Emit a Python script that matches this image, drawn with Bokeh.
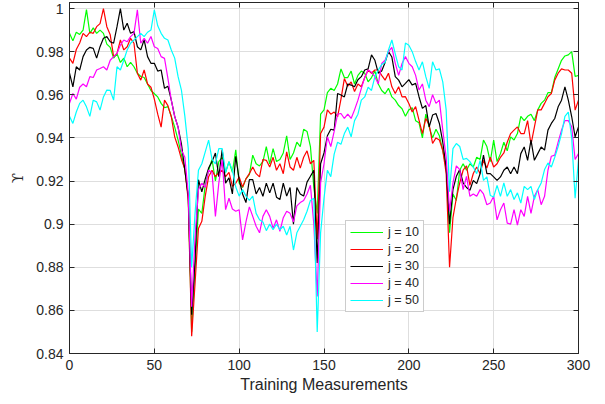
from bokeh.plotting import figure
from bokeh.models import (Range1d, FixedTicker, LinearAxis, Legend, LegendItem,
                          CustomJSTickFormatter)
from bokeh.embed import file_html
from bokeh.resources import INLINE

# ---------------- data ----------------
x_ticks = [0, 50, 100, 150, 200, 250, 300]
y_ticks = [0.84, 0.86, 0.88, 0.90, 0.92, 0.94, 0.96, 0.98, 1.0]
x_label = "Training Measurements"
y_label = "ϒ"
sample_step = 2  # training measurements between stored samples

j10 = [0.9885, 0.985, 0.989, 0.988, 0.990, 0.9995, 0.9885, 0.991, 0.9885, 0.990,
       0.9885, 0.9835, 0.982, 0.977, 0.979, 0.975, 0.977, 0.973, 0.975, 0.973,
       0.970, 0.9685, 0.968, 0.965, 0.962, 0.9605, 0.959, 0.956, 0.954, 0.9545,
       0.950, 0.945, 0.939, 0.932, 0.925, 0.913, 0.850, 0.880, 0.907, 0.905,
       0.918, 0.925, 0.930, 0.920, 0.929, 0.931, 0.924, 0.929, 0.924, 0.9345,
       0.919, 0.917, 0.921, 0.923, 0.932, 0.928, 0.927, 0.929, 0.936, 0.928,
       0.935, 0.929, 0.930, 0.933, 0.941, 0.930, 0.933, 0.938, 0.936, 0.944,
       0.943, 0.936, 0.917, 0.905, 0.951, 0.953, 0.961, 0.963, 0.962, 0.965,
       0.972, 0.968, 0.968, 0.971, 0.965, 0.969, 0.971, 0.970, 0.966, 0.968,
       0.971, 0.965, 0.962, 0.9605, 0.963, 0.959, 0.9575, 0.955, 0.9535, 0.950,
       0.953, 0.954, 0.948, 0.947, 0.940, 0.951, 0.945, 0.940, 0.944, 0.941,
       0.934, 0.9265, 0.896, 0.914, 0.911, 0.925, 0.928, 0.925, 0.928, 0.9265,
       0.931, 0.930, 0.939, 0.936, 0.929, 0.939, 0.929, 0.9327, 0.938, 0.934,
       0.9405, 0.939, 0.942, 0.950, 0.948, 0.950, 0.951, 0.948, 0.953, 0.956,
       0.9575, 0.961, 0.961, 0.968, 0.972, 0.976, 0.978, 0.9785, 0.980, 0.9685,
       0.969]

j20 = [0.977, 0.9746, 0.981, 0.984, 0.9885, 0.987, 0.989, 0.9885, 0.9916, 0.993,
       1.0, 0.9916, 0.9878, 0.9777, 0.9792, 0.9854, 0.9808, 0.9823, 0.9862, 0.9839,
       0.970, 0.9668, 0.9715, 0.965, 0.9635, 0.958, 0.951, 0.945, 0.9575, 0.955,
       0.9498, 0.9405, 0.9358, 0.930, 0.9255, 0.911, 0.848, 0.8726, 0.898, 0.9013,
       0.913, 0.922, 0.925, 0.922, 0.924, 0.925, 0.922, 0.924, 0.9175, 0.919,
       0.9219, 0.9172, 0.921, 0.9234, 0.9265, 0.9234, 0.9219, 0.930, 0.9296, 0.9265,
       0.931, 0.925, 0.928, 0.9234, 0.9335, 0.9265, 0.925, 0.931, 0.926, 0.931,
       0.934, 0.928, 0.9296, 0.893, 0.942, 0.945, 0.953, 0.951, 0.952, 0.9498,
       0.958, 0.9675, 0.964, 0.966, 0.9615, 0.965, 0.9637, 0.968, 0.9715, 0.970,
       0.9715, 0.9715, 0.969, 0.9668, 0.970, 0.9637, 0.9606, 0.9637, 0.959, 0.9591,
       0.956, 0.952, 0.9545, 0.9482, 0.942, 0.949, 0.946, 0.9374, 0.940, 0.939,
       0.9343, 0.9235, 0.880, 0.903, 0.912, 0.9191, 0.925, 0.927, 0.918, 0.9235,
       0.9265, 0.9234, 0.9296, 0.926, 0.931, 0.9265, 0.928, 0.931, 0.933, 0.938,
       0.942, 0.9436, 0.9451, 0.942, 0.942, 0.948, 0.937, 0.945, 0.953, 0.953,
       0.956, 0.9591, 0.9606, 0.9668, 0.970, 0.972, 0.9715, 0.9715, 0.970, 0.9529,
       0.9575]

j30 = [0.970, 0.9637, 0.973, 0.9715, 0.9777, 0.9808, 0.982, 0.9815, 0.977, 0.9823,
       0.9862, 0.987, 0.9846, 0.9839, 0.9916, 1.0, 0.990, 0.9932, 0.9885, 0.9893,
       0.9823, 0.9808, 0.9855, 0.9777, 0.9746, 0.9746, 0.971, 0.9715, 0.963, 0.964,
       0.9575, 0.950, 0.945, 0.937, 0.925, 0.913, 0.858, 0.8834, 0.9206, 0.915,
       0.921, 0.926, 0.929, 0.933, 0.922, 0.9346, 0.919, 0.9215, 0.914, 0.9315,
       0.9206, 0.914, 0.910, 0.9206, 0.9206, 0.914, 0.917, 0.9129, 0.919, 0.9145,
       0.919, 0.9125, 0.9114, 0.919, 0.913, 0.917, 0.900, 0.917, 0.914, 0.913,
       0.9195, 0.9222, 0.925, 0.882, 0.928, 0.933, 0.941, 0.944, 0.9436, 0.9606,
       0.9599, 0.959, 0.965, 0.9645, 0.9637, 0.967, 0.9684, 0.9715, 0.972, 0.9785,
       0.976, 0.970, 0.971, 0.975, 0.980, 0.9775, 0.9684, 0.9668, 0.9637, 0.9653,
       0.967, 0.9645, 0.9653, 0.9591, 0.9537, 0.955, 0.9451, 0.9506, 0.9513, 0.9467,
       0.938, 0.9265, 0.900, 0.916, 0.9222, 0.9253, 0.9191, 0.917, 0.9157, 0.9203,
       0.9188, 0.9234, 0.932, 0.9234, 0.9234, 0.9219, 0.9203, 0.9219, 0.925, 0.9265,
       0.9234, 0.9265, 0.9234, 0.9327, 0.9358, 0.9296, 0.939, 0.9296, 0.9327, 0.9358,
       0.9343, 0.9436, 0.9467, 0.949, 0.9544, 0.9575, 0.9637, 0.9575, 0.9498, 0.9405,
       0.9451]

j40 = [0.956, 0.9606, 0.958, 0.9635, 0.965, 0.9637, 0.9684, 0.968, 0.9715, 0.9722,
       0.973, 0.9715, 0.976, 0.9777, 0.9792, 0.9831, 0.9854, 0.9846, 0.987, 0.9885,
       0.9994, 0.9839, 0.9862, 0.9839, 0.987, 0.9823, 0.9815, 0.9777, 0.9769, 0.9676,
       0.9575, 0.950, 0.945, 0.9343, 0.931, 0.914, 0.8617, 0.894, 0.916, 0.919,
       0.917, 0.925, 0.924, 0.9036, 0.919, 0.930, 0.9067, 0.912, 0.907, 0.906,
       0.9067, 0.8927, 0.901, 0.908, 0.9036, 0.899, 0.896, 0.9036, 0.9067, 0.9036,
       0.898, 0.902, 0.8967, 0.903, 0.906, 0.905, 0.901, 0.9085, 0.910, 0.911,
       0.914, 0.918, 0.900, 0.8665, 0.9191, 0.928, 0.9405, 0.936, 0.943, 0.951,
       0.9513, 0.949, 0.951, 0.949, 0.953, 0.9575, 0.963, 0.968, 0.9715, 0.9705,
       0.9684, 0.965, 0.9745, 0.9761, 0.980, 0.982, 0.9746, 0.969, 0.9745, 0.9777,
       0.9746, 0.973, 0.969, 0.9622, 0.965, 0.9575, 0.9545, 0.960, 0.956, 0.9575,
       0.9436, 0.931, 0.906, 0.919, 0.927, 0.9253, 0.916, 0.9222, 0.9129, 0.914,
       0.9129, 0.916, 0.914, 0.909, 0.9098, 0.9129, 0.902, 0.9067, 0.9098, 0.9005,
       0.900, 0.9067, 0.8996, 0.9067, 0.9036, 0.9129, 0.905, 0.9129, 0.916, 0.909,
       0.9129, 0.925, 0.9315, 0.932, 0.938, 0.9436, 0.948, 0.948, 0.9451, 0.930,
       0.9327]

j50 = [0.950, 0.9467, 0.952, 0.956, 0.9575, 0.9544, 0.950, 0.9575, 0.9567, 0.9529,
       0.959, 0.9622, 0.962, 0.9575, 0.973, 0.9715, 0.976, 0.9808, 0.9839, 0.9854,
       0.987, 0.9885, 0.987, 0.989, 0.990, 0.9994, 0.992, 0.9885, 0.9862, 0.9854,
       0.9808, 0.977, 0.9684, 0.962, 0.950, 0.935, 0.880, 0.905, 0.925, 0.928,
       0.9335, 0.939, 0.930, 0.928, 0.935, 0.935, 0.924, 0.929, 0.925, 0.9172,
       0.913, 0.916, 0.913, 0.911, 0.913, 0.905, 0.902, 0.901, 0.897, 0.900,
       0.8974, 0.900, 0.8974, 0.899, 0.895, 0.899, 0.888, 0.896, 0.899, 0.902,
       0.906, 0.911, 0.912, 0.850, 0.896, 0.912, 0.925, 0.922, 0.9325, 0.938,
       0.937, 0.942, 0.945, 0.9405, 0.948, 0.951, 0.9575, 0.959, 0.9635, 0.962,
       0.9684, 0.9715, 0.974, 0.975, 0.9808, 0.9854, 0.979, 0.973, 0.9715, 0.984,
       0.983, 0.980, 0.9754, 0.9715, 0.9753, 0.9684, 0.963, 0.9753, 0.9715, 0.972,
       0.966, 0.953, 0.915, 0.935, 0.9374, 0.936, 0.930, 0.9305, 0.929, 0.9265,
       0.9234, 0.9296, 0.9203, 0.9219, 0.9133, 0.9126, 0.918, 0.9129, 0.9191, 0.9129,
       0.916, 0.9114, 0.9145, 0.9098, 0.9175, 0.916, 0.9175, 0.9114, 0.916, 0.9191,
       0.9253, 0.9284, 0.9265, 0.931, 0.936, 0.942, 0.950, 0.952, 0.940, 0.912,
       0.930]

series_labels = ["j = 10", "j = 20", "j = 30", "j = 40", "j = 50"]
series_values = [j10, j20, j30, j40, j50]
series_colors = ["#00ff00", "#ff0000", "#000000", "#ff00ff", "#00ffff"]

# ---------------- figure ----------------
FONT = "Liberation Sans"
TXT = "#262626"

p = figure(width=605, height=404, output_backend="svg", toolbar_location=None,
           x_range=Range1d(0, 300), y_range=Range1d(0.84, 1.0028),
           min_border_left=69, min_border_right=27, min_border_top=2,
           min_border_bottom=51, background_fill_color="white",
           border_fill_color="white")
p.outline_line_color = TXT
p.outline_line_width = 1

yfmt = CustomJSTickFormatter(code="""
var s = tick.toFixed(2);
s = s.replace(/0+$/, '').replace(/\\.$/, '');
return s;
""")

for ax in p.xaxis:
    ax.ticker = FixedTicker(ticks=x_ticks)
    ax.axis_label = x_label
for ax in p.yaxis:
    ax.ticker = FixedTicker(ticks=y_ticks)
    ax.formatter = yfmt
    ax.axis_label = y_label

for ax in list(p.xaxis) + list(p.yaxis):
    ax.axis_line_color = TXT
    ax.major_tick_line_color = TXT
    ax.major_tick_in = 5
    ax.major_tick_out = 0
    ax.minor_tick_line_color = None
    ax.major_label_text_font = FONT
    ax.major_label_text_font_size = "14px"
    ax.major_label_text_color = TXT
    ax.axis_label_text_color = TXT
    ax.axis_label_text_font_style = "normal"

p.xaxis.major_label_standoff = 6
p.xaxis.axis_label_text_font = FONT
p.xaxis.axis_label_text_font_size = "16px"
p.xaxis.axis_label_standoff = 3
p.yaxis.major_label_standoff = 6
p.yaxis.axis_label_text_font = "DejaVu Serif"
p.yaxis.axis_label_text_font_size = "15px"
p.yaxis.axis_label_standoff = 6

# box ticks on top and right (no labels drawn)
blank = CustomJSTickFormatter(code="return '';")
top_ax = LinearAxis(ticker=FixedTicker(ticks=x_ticks), formatter=blank,
                    major_label_text_font_size="0px", major_label_text_color=None,
                    major_tick_in=5, major_tick_out=0, minor_tick_line_color=None,
                    axis_line_color=TXT, major_tick_line_color=TXT,
                    major_label_standoff=0)
right_ax = LinearAxis(ticker=FixedTicker(ticks=y_ticks), formatter=blank,
                      major_label_text_font_size="0px", major_label_text_color=None,
                      major_tick_in=5, major_tick_out=0, minor_tick_line_color=None,
                      axis_line_color=TXT, major_tick_line_color=TXT,
                      major_label_standoff=0)
p.add_layout(top_ax, "above")
p.add_layout(right_ax, "right")

p.xgrid.ticker = FixedTicker(ticks=x_ticks)
p.ygrid.ticker = FixedTicker(ticks=y_ticks)
p.grid.grid_line_color = "#dedede"
p.grid.grid_line_width = 1

items = []
for lab, vals, col in zip(series_labels, series_values, series_colors):
    xs = [i * sample_step for i in range(len(vals))]
    r = p.line(xs, vals, line_color=col, line_width=1.2)
    items.append(LegendItem(label=lab, renderers=[r]))

legend = Legend(items=items, location=(276, 41), orientation="vertical",
                label_text_font=FONT, label_text_font_size="12.5px",
                label_text_color=TXT, label_height=14, glyph_height=14,
                glyph_width=33, spacing=3, padding=4, margin=0,
                label_standoff=5, border_line_color="#9a9a9a",
                border_line_width=1, background_fill_color="white",
                background_fill_alpha=1.0)
p.add_layout(legend, "center")

open("out.html", "w").write(file_html(p, INLINE))
